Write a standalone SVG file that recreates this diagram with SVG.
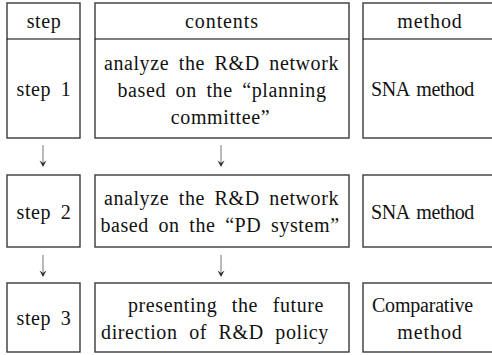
<svg xmlns="http://www.w3.org/2000/svg" width="492" height="355" viewBox="0 0 492 355">
<style>
.box{fill:#fff;stroke:#3a3a3a;stroke-width:1.4}
.div{stroke:#000;stroke-width:1.2}
.t{font-family:'Liberation Serif','DejaVu Serif',serif;font-size:20px;fill:#111;text-anchor:middle;letter-spacing:0.6px;word-spacing:4px}
.u{letter-spacing:-0.4px;word-spacing:3px}
.conn{stroke:#777;stroke-width:1;fill:none}
.head{fill:#333;stroke:none}
</style>
<rect width="492" height="355" fill="#fff"/>
<g id="step1">
<rect class="box" x="7" y="3" width="73" height="135"/>
<line class="div" x1="7" y1="39" x2="80" y2="39"/>
<text class="t" x="44" y="28">step</text>
<text class="t" x="44" y="96">step 1</text>
</g>
<g id="contents1">
<rect class="box" x="95" y="3" width="254" height="135"/>
<line class="div" x1="95" y1="39" x2="349" y2="39"/>
<text class="t" x="222" y="28" style="letter-spacing:0.9px">contents</text>
<text class="t" x="221.5" y="69.5">analyze the R&amp;D network</text>
<text class="t" x="222" y="96.5">based on the “planning</text>
<text class="t" x="220.5" y="123.5">committee”</text>
</g>
<g id="method1">
<rect class="box" x="363" y="3" width="134" height="135"/>
<line class="div" x1="363" y1="39" x2="497" y2="39"/>
<text class="t" x="430" y="28" style="letter-spacing:0.9px">method</text>
<text class="t u" x="422.5" y="96">SNA method</text>
</g>
<g id="step2">
<rect class="box" x="7" y="175" width="73" height="72"/>
<text class="t" x="44" y="218.5">step 2</text>
</g>
<g id="contents2">
<rect class="box" x="95" y="175" width="254" height="72"/>
<text class="t" x="221.5" y="204.5">analyze the R&amp;D network</text>
<text class="t" x="220" y="231.5">based on the “PD system”</text>
</g>
<g id="method2">
<rect class="box" x="363" y="175" width="134" height="72"/>
<text class="t u" x="422.5" y="218.5">SNA method</text>
</g>
<g id="step3">
<rect class="box" x="7" y="283" width="73" height="69"/>
<text class="t" x="44" y="325">step 3</text>
</g>
<g id="contents3">
<rect class="box" x="95" y="283" width="254" height="69"/>
<text class="t" x="226" y="312" style="word-spacing:9px">presenting the future</text>
<text class="t" x="215" y="339" style="word-spacing:6px">direction of R&amp;D policy</text>
</g>
<g id="method3">
<rect class="box" x="363" y="283" width="134" height="69"/>
<text class="t" x="422.5" y="312" style="letter-spacing:-0.2px">Comparative</text>
<text class="t" x="430" y="339" style="letter-spacing:0.9px">method</text>
</g>
<g id="connectors">
<line class="conn" x1="43" y1="145" x2="43" y2="165"/>
<path class="head" d="M39.5,160.5 L43,167 L46.5,160.5 L43,163 Z"/>
<line class="conn" x1="221" y1="145" x2="221" y2="165"/>
<path class="head" d="M217.5,160.5 L221,167 L224.5,160.5 L221,163 Z"/>
<line class="conn" x1="43" y1="255" x2="43" y2="275"/>
<path class="head" d="M39.5,270.5 L43,277 L46.5,270.5 L43,273 Z"/>
<line class="conn" x1="221" y1="255" x2="221" y2="275"/>
<path class="head" d="M217.5,270.5 L221,277 L224.5,270.5 L221,273 Z"/>
</g>
</svg>
